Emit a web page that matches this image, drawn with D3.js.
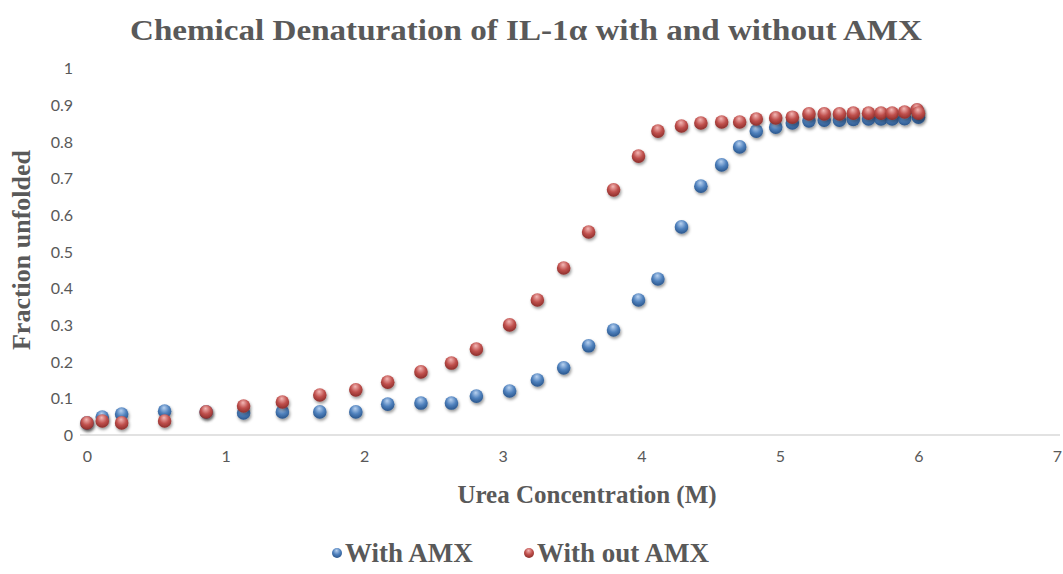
<!DOCTYPE html>
<html>
<head>
<meta charset="utf-8">
<script src="https://cdn.jsdelivr.net/npm/d3@7"></script>
<style>
  html, body { margin: 0; padding: 0; background: #fff; }
  svg { display: block; }
</style>
</head>
<body>
<svg id="chart" width="1063" height="574"></svg>
<script>
// Urea concentration (M) at each measurement
const urea = [0, 0.11, 0.25, 0.56, 0.86, 1.13, 1.41, 1.68, 1.94, 2.17, 2.41, 2.63, 2.81,
  3.05, 3.25, 3.44, 3.62, 3.8, 3.98, 4.12, 4.29, 4.43, 4.58, 4.71, 4.83, 4.97, 5.09,
  5.21, 5.32, 5.43, 5.53, 5.64, 5.73, 5.81, 5.9, 5.99, 6.0];

// Fraction unfolded, with AMX
const withAMX = [0.033, 0.049, 0.057, 0.065, 0.063, 0.06, 0.063, 0.063, 0.063, 0.084, 0.087,
  0.087, 0.106, 0.12, 0.15, 0.183, 0.243, 0.286, 0.368, 0.425, 0.567, 0.678, 0.736, 0.785,
  0.828, 0.839, 0.85, 0.856, 0.858, 0.858, 0.86, 0.861, 0.861, 0.861, 0.862, 0.885, 0.866];

// Fraction unfolded, without AMX
const withoutAMX = [0.033, 0.038, 0.033, 0.038, 0.063, 0.079, 0.09, 0.109, 0.123, 0.144, 0.172,
  0.196, 0.234, 0.3, 0.368, 0.455, 0.553, 0.668, 0.76, 0.828, 0.842, 0.85, 0.853, 0.853,
  0.861, 0.864, 0.866, 0.875, 0.875, 0.875, 0.877, 0.877, 0.877, 0.877, 0.88, 0.886, 0.877];

const xTicks = [0, 1, 2, 3, 4, 5, 6, 7];
const yTicks = [0, 0.1, 0.2, 0.3, 0.4, 0.5, 0.6, 0.7, 0.8, 0.9, 1];

const seriesNames = ["With AMX", "With out AMX"];
const seriesColors = [
  { light: "#b9d2f0", base: "#4f81bd", dark: "#2a568c" },
  { light: "#f3b8b6", base: "#c0504d", dark: "#8c2e2b" }
];

const svg = d3.select("#chart");
const textColor = "#595959";
const serif = "'Liberation Serif', 'Times New Roman', serif";

const x = d3.scaleLinear().domain([0, 7]).range([87, 1057]);
const y = d3.scaleLinear().domain([0, 1]).range([435, 68]);

// Marker gradients and soft shadow
const defs = svg.append("defs");
seriesColors.forEach((c, i) => {
  const g = defs.append("radialGradient").attr("id", "ball" + i)
    .attr("cx", "50%").attr("cy", "35%").attr("r", "65%").attr("fx", "45%").attr("fy", "25%");
  g.append("stop").attr("offset", "0%").attr("stop-color", c.light);
  g.append("stop").attr("offset", "55%").attr("stop-color", c.base);
  g.append("stop").attr("offset", "100%").attr("stop-color", c.dark);
});
const f = defs.append("filter").attr("id", "shadow")
  .attr("x", "-50%").attr("y", "-50%").attr("width", "200%").attr("height", "200%");
f.append("feDropShadow").attr("dx", 1).attr("dy", 2).attr("stdDeviation", 1.6)
  .attr("flood-color", "#000").attr("flood-opacity", 0.4);

// Title
svg.append("text")
  .attr("x", 526).attr("y", 40)
  .attr("text-anchor", "middle")
  .attr("font-family", serif)
  .attr("font-weight", "bold")
  .attr("font-size", 30)
  .attr("fill", textColor)
  .attr("textLength", 792)
  .attr("lengthAdjust", "spacingAndGlyphs")
  .text("Chemical Denaturation of IL-1α with and without AMX");

// Horizontal axis line
svg.append("line")
  .attr("x1", 80).attr("x2", 1060)
  .attr("y1", y(0)).attr("y2", y(0))
  .attr("stroke", "#d9d9d9").attr("stroke-width", 1.3);

// X axis tick labels
const xAxis = d3.axisBottom(x).tickValues(xTicks).tickSize(0).tickPadding(0).tickFormat(d3.format("d"));
const gx = svg.append("g").attr("transform", `translate(0, ${y(0) + 16})`).call(xAxis);
gx.select(".domain").remove();
gx.selectAll("text")
  .attr("font-family", "Lato, 'Open Sans', sans-serif")
  .attr("font-size", 16).attr("fill", textColor).attr("dy", "0.71em");

// Y axis tick labels
const yAxis = d3.axisLeft(y).tickValues(yTicks).tickSize(0).tickPadding(0).tickFormat(d3.format("~g"));
const gy = svg.append("g").attr("transform", "translate(73, 0)").call(yAxis);
gy.select(".domain").remove();
gy.selectAll("text")
  .attr("font-family", "Lato, 'Open Sans', sans-serif")
  .attr("font-size", 16).attr("fill", textColor).attr("dy", "0.35em");

// Axis titles
svg.append("text")
  .attr("x", 587).attr("y", 503)
  .attr("text-anchor", "middle")
  .attr("font-family", serif)
  .attr("font-weight", "bold").attr("font-size", 25)
  .attr("fill", textColor)
  .text("Urea Concentration (M)");

svg.append("text")
  .attr("transform", "translate(30, 250) rotate(-90)")
  .attr("text-anchor", "middle")
  .attr("font-family", serif)
  .attr("font-weight", "bold").attr("font-size", 26)
  .attr("fill", textColor)
  .text("Fraction unfolded");

// Data points: with AMX first, without AMX on top
[withAMX, withoutAMX].forEach((vals, i) => {
  svg.append("g")
    .selectAll("circle")
    .data(urea.map((u, k) => ({ u, v: vals[k] })))
    .join("circle")
    .attr("cx", d => x(d.u))
    .attr("cy", d => y(d.v))
    .attr("r", 6.8)
    .attr("fill", `url(#ball${i})`)
    .attr("filter", "url(#shadow)");
});

// Legend
const legendX = [337, 529];
seriesNames.forEach((name, i) => {
  const g = svg.append("g").attr("transform", `translate(${legendX[i]}, 554)`);
  g.append("circle").attr("r", 5).attr("cy", -1).attr("fill", `url(#ball${i})`);
  g.append("text")
    .attr("x", 8).attr("y", 8)
    .attr("font-family", serif)
    .attr("font-weight", "bold").attr("font-size", 27)
    .attr("fill", textColor)
    .text(name);
});
</script>
</body>
</html>
